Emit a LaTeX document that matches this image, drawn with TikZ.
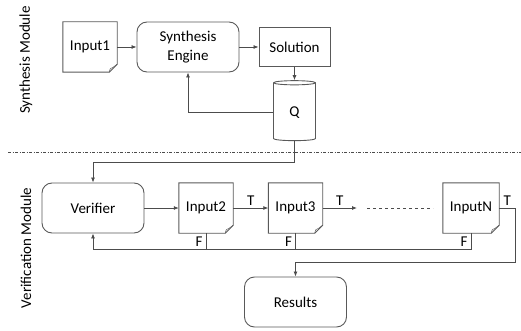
\documentclass[tikz,border=0pt]{standalone}
\usepackage{fontspec}
\setmainfont{Carlito}
\usetikzlibrary{shapes.geometric,arrows.meta}

% document outline with folded corner
\newcommand{\docframe}[1]{%
  \draw[frame] (#1.north west) -- (#1.north east) -- ([yshift=8pt]#1.south east)
    -- ([xshift=-8pt]#1.south east) -- (#1.south west) -- cycle;
  \draw[frame, line width=0.5pt] ([xshift=-8pt]#1.south east)
    .. controls ([xshift=-7pt,yshift=4pt]#1.south east) .. ([xshift=-4pt,yshift=5pt]#1.south east)
    -- ([yshift=8pt]#1.south east);}

\begin{document}
\begin{tikzpicture}[x=1pt, y=-1pt, node distance={98pt},
    every node/.style={font=\fontsize{15}{19}\selectfont},
    frame/.style = {draw=black!65, line width=0.9pt},
    box/.style = {frame, rectangle, minimum width=71pt, minimum height=39pt},
    rbox/.style = {frame, rectangle, rounded corners=10pt, minimum width=102pt, minimum height=50pt, align=center},
    doc/.style = {rectangle, minimum width=54pt, minimum height=50pt},
    db/.style = {frame, cylinder, shape border rotate=90, aspect=0.25, minimum width=42pt, minimum height=60pt},
    arr/.style = {draw=black!70, line width=0.8pt, -{Latex[length=5pt,width=4pt]}},
    wire/.style = {draw=black!70, line width=0.8pt}]
    \useasboundingbox (0,0) rectangle (521,331);
    \node[rotate=90] (synlbl) at (26,60) {Synthesis Module};
    \node[rotate=90] (verlbl) at (26,248) {Verification Module};
    \draw[black!70, line width=0.6pt, dash pattern=on 3pt off 1.5pt on 1pt off 1.5pt] (8,152) -- (521,152);

    \node[doc] (in1) at (90,47) {Input1};
    \node[rbox] (eng) [right of=in1] {Synthesis\\Engine};
    \node[box] (sol) [right of=eng, node distance={106.5pt}] {Solution};
    \node[db] (q) [below of=sol, node distance={65.5pt}] {Q};
    \node[rbox] (ver) at (93,208) {Verifier};
    \node[doc] (in2) [right of=ver, node distance={113pt}] {Input2};
    \node[doc] (in3) [right of=in2, node distance={89.5pt}] {Input3};
    \node[doc, minimum width=56pt] (inN) [right of=in3, node distance={175.5pt}] {InputN};
    \node[rbox] (res) [below of=in3, node distance={94pt}] {Results};
    \foreach \d in {in1,in2,in3,inN} \docframe{\d};

    \coordinate (gap1) at (357,208);
    \coordinate (gap2) at (367,208);
    \coordinate (gap3) at (433,208);

    \draw[arr] (in1) -- (eng);
    \draw[arr] (eng) -- (sol);
    \draw[arr] (sol) -- (q);
    \draw[arr] (q.west) -| (eng.south);
    \draw[arr] (q.south) -- ++(0,21) -| (ver.north);
    \draw[arr] (ver) -- (in2);
    \draw[arr] (in2) -- node[above, inner sep=2pt] {T} (in3);
    \draw[arr] (in3) -- node[above, inner sep=2pt] {T} (gap1);
    \draw[wire, dashed] (gap2) -- (gap3);
    \draw[arr] (inN.east) -- node[above, inner sep=2pt] {T} ++(16,0) -- ++(0,54) -| (res.north);
    \draw[arr] (inN.south) -- node[left, inner sep=3pt] {F} ++(0,16) -| (ver.south);
    \draw[wire] (in2.south) -- node[left, inner sep=3pt] {F} ++(0,16);
    \draw[wire] (in3.south) -- node[left, inner sep=3pt] {F} ++(0,16);
\end{tikzpicture}
\end{document}
